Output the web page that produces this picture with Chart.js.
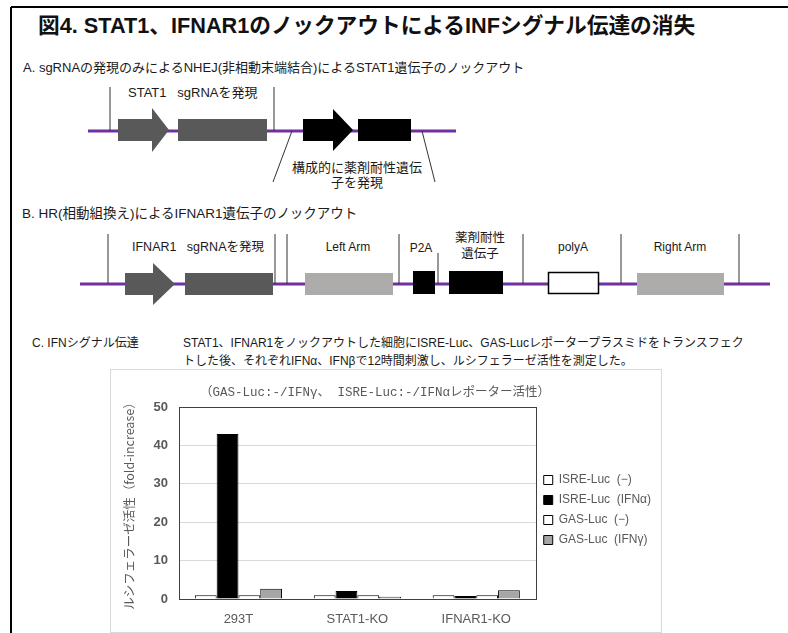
<!DOCTYPE html>
<html>
<head>
<meta charset="utf-8">
<script src="https://cdn.jsdelivr.net/npm/chart.js@4.4.1/dist/chart.umd.min.js"></script>
<style>
  body { margin: 0; width: 788px; height: 633px; overflow: hidden; background: #fff;
         font-family: "Liberation Sans", "Noto Sans CJK JP", sans-serif; }
  #fig { position: absolute; left: 0; top: 0; }
  #fig text { white-space: pre; }
  #chartBox { position: absolute; left: 110px; top: 369px; width: 550px; height: 262px;
              border: 1px solid #d9d9d9; }
</style>
</head>
<body>
<svg id="fig" width="788" height="633">
  <!-- page frame -->
  <line x1="11" y1="7" x2="11" y2="633" stroke="#000" stroke-width="2"/>
  <line x1="11" y1="7" x2="788" y2="7" stroke="#000" stroke-width="2"/>

  <!-- A -->
  <line x1="88" y1="131" x2="456" y2="131" stroke="#7030a0" stroke-width="3"/>
  <line x1="110" y1="87" x2="110" y2="131" stroke="#333" stroke-width="1"/>
  <line x1="274" y1="87" x2="274" y2="131" stroke="#333" stroke-width="1"/>
  <polygon points="118,119 152,119 152,108 169,130 152,152 152,141 118,141" fill="#595959"/>
  <rect x="178" y="119" width="89" height="22" fill="#595959"/>
  <polygon points="303,119 333,119 333,109 353,130 333,151 333,141 303,141" fill="#000"/>
  <rect x="358" y="119" width="53" height="22" fill="#000"/>
  <line x1="292" y1="131" x2="273" y2="182" stroke="#333" stroke-width="1"/>
  <line x1="422" y1="131" x2="435" y2="182" stroke="#333" stroke-width="1"/>

  <!-- B -->
  <line x1="80" y1="284" x2="770" y2="284" stroke="#7030a0" stroke-width="3"/>
  <g stroke="#333" stroke-width="1">
    <line x1="108" y1="234" x2="108" y2="284"/>
    <line x1="275" y1="234" x2="275" y2="284"/>
    <line x1="287" y1="234" x2="287" y2="284"/>
    <line x1="399" y1="234" x2="399" y2="284"/>
    <line x1="438" y1="253" x2="438" y2="284"/>
    <line x1="523" y1="234" x2="523" y2="284"/>
    <line x1="621" y1="234" x2="621" y2="284"/>
    <line x1="739" y1="234" x2="739" y2="284"/>
  </g>
  <polygon points="125,273 153,273 153,263 175,284 153,305 153,295 125,295" fill="#595959"/>
  <rect x="185" y="273" width="88" height="22" fill="#595959"/>
  <rect x="305" y="273" width="88" height="22" fill="#aeabab"/>
  <rect x="413" y="271" width="22" height="23" fill="#000"/>
  <rect x="449" y="271" width="54" height="23" fill="#000"/>
  <rect x="548.5" y="272.5" width="50" height="21" fill="#fff" stroke="#000" stroke-width="1.5"/>
  <rect x="637" y="273" width="87" height="22" fill="#aeabab"/>

  <g font-family="Liberation Sans, Noto Sans CJK JP, sans-serif" fill="#1a1a1a" dominant-baseline="central">
    <text x="38" y="25" font-size="21.7" font-weight="bold" fill="#111">図4. STAT1、IFNAR1のノックアウトによるINFシグナル伝達の消失</text>
    <text x="23" y="67" font-size="13">A. sgRNAの発現のみによるNHEJ(非相動末端結合)によるSTAT1遺伝子のノックアウト</text>
    <text x="128" y="92" font-size="13">STAT1   sgRNAを発現</text>
    <text x="357" y="167" font-size="13" text-anchor="middle">構成的に薬剤耐性遺伝</text>
    <text x="357" y="182" font-size="13" text-anchor="middle">子を発現</text>

    <text x="22" y="213" font-size="13.5">B. HR(相動組換え)によるIFNAR1遺伝子のノックアウト</text>
    <text x="132" y="247" font-size="12.5">IFNAR1   sgRNAを発現</text>
    <text x="348" y="247" font-size="12" text-anchor="middle">Left Arm</text>
    <text x="421" y="248" font-size="12" text-anchor="middle">P2A</text>
    <text x="480" y="238" font-size="12.5" text-anchor="middle">薬剤耐性</text>
    <text x="480" y="254" font-size="12.5" text-anchor="middle">遺伝子</text>
    <text x="573" y="247" font-size="12" text-anchor="middle">polyA</text>
    <text x="680" y="247" font-size="12" text-anchor="middle">Right Arm</text>

    <text x="32" y="343" font-size="12">C. IFNシグナル伝達</text>
    <text x="183" y="343" font-size="12">STAT1、IFNAR1をノックアウトした細胞にISRE-Luc、GAS-Lucレポータープラスミドをトランスフェク</text>
    <text x="183" y="361" font-size="12">トした後、それぞれIFNα、IFNβで12時間刺激し、ルシフェラーゼ活性を測定した。</text>
  </g>
</svg>

<div id="chartBox"><canvas id="Chart" width="550" height="262"></canvas></div>

<script>
var categories = ['293T', 'STAT1-KO', 'IFNAR1-KO'];
var seriesNames = ['ISRE-Luc  (−)', 'ISRE-Luc  (IFNα)', 'GAS-Luc  (−)', 'GAS-Luc  (IFNγ)'];
var isreNone = [1, 1, 1];
var isreIfna = [43, 2.1, 0.8];
var gasNone = [1, 1, 1];
var gasIfng = [2.7, 0.6, 2.3];
var colors = ['#ffffff', '#000000', '#ffffff', '#a6a6a6'];

var allData = [isreNone, isreIfna, gasNone, gasIfng];
var textGray = '#595959';

// dark frame around the plot area, like the excel chart
var plotFrame = {
    id: 'plotFrame',
    beforeDatasetsDraw: function(chart) {
        var a = chart.chartArea, c = chart.ctx;
        c.save();
        c.strokeStyle = '#404040';
        c.lineWidth = 1;
        c.strokeRect(Math.round(a.left) + 0.5, Math.round(a.top) + 0.5,
                     Math.round(a.right - a.left), Math.round(a.bottom - a.top));
        c.restore();
    }
};

const ctx = document.getElementById('Chart');
var myChart = new Chart(ctx, {
    type: 'bar',
    data: {
        labels: categories,
        datasets: allData.map(function(d, i) {
            return {
                label: seriesNames[i],
                data: d,
                backgroundColor: colors[i],
                borderColor: '#000',
                borderWidth: 1,
                categoryPercentage: 0.733,
                barPercentage: 1.0
            };
        })
    },
    options: {
        responsive: false,
        animation: false,
        layout: { padding: { left: 8, right: 0, top: 0, bottom: 0 } },
        plugins: {
            title: {
                display: true,
                // trailing spaces nudge the centred text a bit left, as in the original
                text: '（GAS-Luc:-/IFNγ、 ISRE-Luc:-/IFNαレポーター活性）    ',
                color: textGray,
                font: { family: '"Liberation Mono", "Noto Sans CJK JP", monospace', size: 12.5, weight: 'normal' },
                padding: { top: 15, bottom: 7 }
            },
            legend: {
                position: 'right',
                title: { display: true, text: '', font: { size: 10 }, padding: { top: 0, bottom: 6 } },
                labels: {
                    boxWidth: 9,
                    boxHeight: 9,
                    padding: 8,
                    color: textGray,
                    font: { family: '"Liberation Sans", "Noto Sans CJK JP"', size: 12 }
                }
            },
            tooltip: { enabled: false }
        },
        scales: {
            x: {
                grid: { display: false, drawTicks: false },
                border: { color: '#404040' },
                ticks: {
                    color: textGray, padding: 13,
                    font: { family: '"Liberation Sans"', size: 13 }
                },
                afterFit: function(scale) { scale.height = 33; }
            },
            y: {
                min: 0,
                max: 50,
                ticks: {
                    stepSize: 10, color: textGray, padding: 11,
                    font: { family: '"Liberation Sans"', size: 13, weight: 'bold' }
                },
                grid: { color: '#d9d9d9', drawTicks: false },
                border: { color: '#404040' },
                title: {
                    display: true,
                    text: 'ルシフェラーゼ活性（fold-increase）',
                    color: textGray,
                    font: { family: '"Noto Sans CJK JP"', size: 12.5 },
                    padding: { top: 3, bottom: 4 }
                },
                afterFit: function(scale) { scale.width = 60; }
            }
        }
    },
    plugins: [plotFrame]
});
</script>
</body>
</html>
